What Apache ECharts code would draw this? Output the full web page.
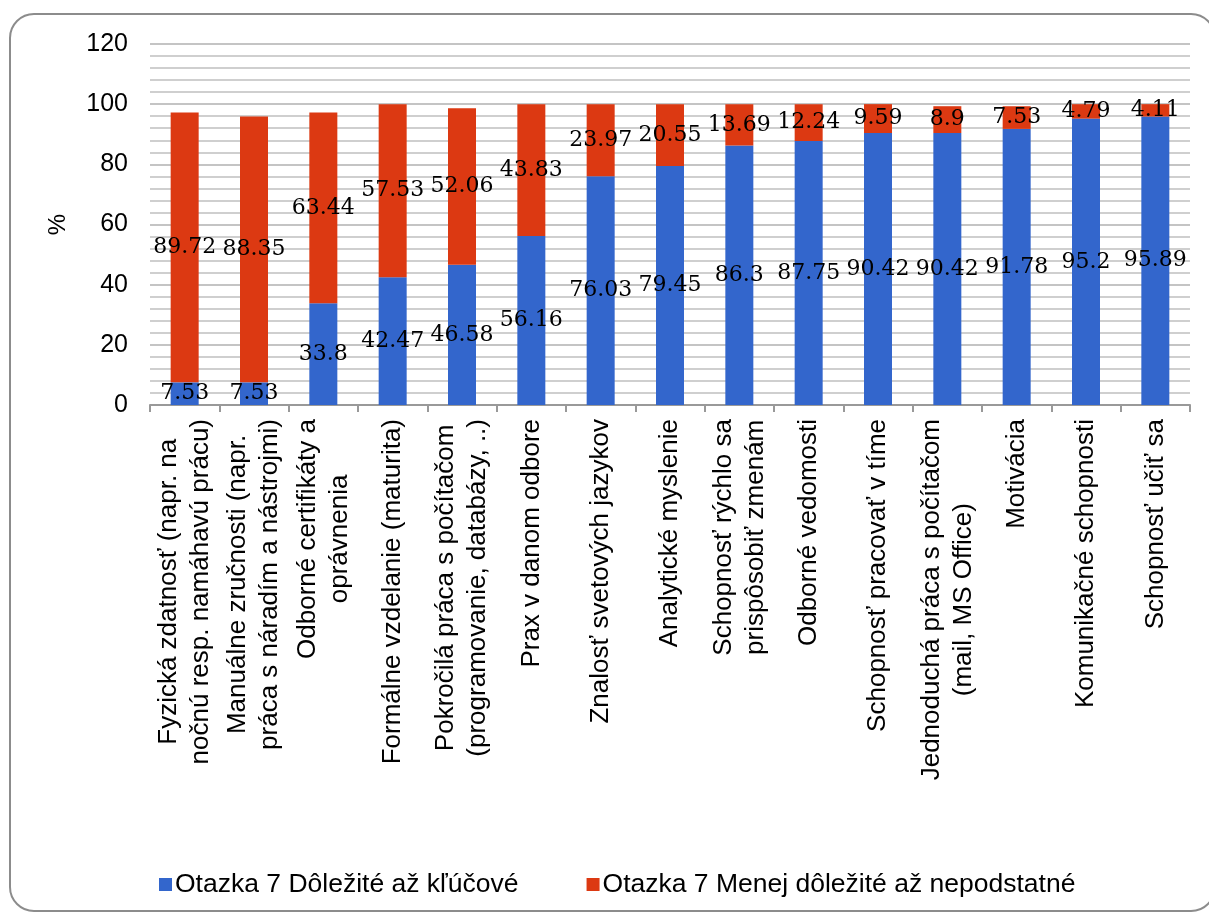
<!DOCTYPE html>
<html>
<head>
<meta charset="utf-8">
<script src="https://cdn.jsdelivr.net/npm/echarts@6/dist/echarts.min.js"></script>
<style>
html,body{margin:0;padding:0;background:#fff;}
#chart{width:1209px;height:917px;}
</style>
</head>
<body>
<div id="chart"></div>
<script>
const categories = [
  'Fyzická zdatnosť (napr. na\nnočnú resp. namáhavú prácu)',
  'Manuálne zručnosti (napr.\npráca s náradím a nástrojmi)',
  'Odborné certifikáty a\noprávnenia',
  'Formálne vzdelanie (maturita)',
  'Pokročilá práca s počítačom\n(programovanie, databázy, ..)',
  'Prax v danom odbore',
  'Znalosť svetových jazykov',
  'Analytické myslenie',
  'Schopnosť rýchlo sa\nprispôsobiť zmenám',
  'Odborné vedomosti',
  'Schopnosť pracovať v tíme',
  'Jednoduchá práca s počítačom\n(mail, MS Office)',
  'Motivácia',
  'Komunikačné schopnosti',
  'Schopnosť učiť sa'
];
const seriesNames = ['Otazka 7 Dôležité až kľúčové', 'Otazka 7 Menej dôležité až nepodstatné'];
const important = [7.53, 7.53, 33.8, 42.47, 46.58, 56.16, 76.03, 79.45, 86.3, 87.75, 90.42, 90.42, 91.78, 95.2, 95.89];
const lessImportant = [89.72, 88.35, 63.44, 57.53, 52.06, 43.83, 23.97, 20.55, 13.69, 12.24, 9.59, 8.9, 7.53, 4.79, 4.11];
const yTicks = [0, 20, 40, 60, 80, 100, 120];

const chart = echarts.init(document.getElementById('chart'));
const labelStyle = {
  show: true,
  position: 'inside',
  fontFamily: 'DejaVu Serif',
  fontSize: 22,
  color: '#000'
};
chart.setOption({
  animation: false,
  backgroundColor: '#fff',
  graphic: [{
    type: 'rect',
    shape: {x: 10, y: 14, width: 1205, height: 897, r: 24},
    style: {fill: 'none', stroke: '#8c8c8c', lineWidth: 2},
    silent: true,
    z: -10
  }],
  grid: {left: 150, right: 19, top: 44, bottom: 512},
  legend: {
    bottom: 14,
    left: 154,
    itemGap: 68,
    itemWidth: 13,
    itemHeight: 13,
    icon: 'rect',
    textStyle: {fontFamily: 'Liberation Sans', fontSize: 26.5, color: '#000', padding: [0, 0, 0, -2]},
    data: seriesNames
  },
  xAxis: {
    type: 'category',
    data: categories,
    axisLine: {lineStyle: {color: '#999', width: 2}},
    axisTick: {show: true, length: 7, lineStyle: {color: '#999', width: 2}},
    axisLabel: {
      interval: 0,
      rotate: 90,
      margin: 14,
      fontFamily: 'Liberation Sans',
      fontSize: 26,
      color: '#000',
      lineHeight: 32,
      formatter: function (v) {
        return v.split('\n').map(function (l) { return '{c|' + l + '}'; }).join('\n');
      },
      rich: {c: {align: 'center', fontFamily: 'Liberation Sans', fontSize: 26, lineHeight: 32, color: '#000'}}
    }
  },
  yAxis: {
    type: 'value',
    min: yTicks[0],
    max: yTicks[yTicks.length - 1],
    interval: 20,
    name: '%',
    nameLocation: 'middle',
    nameGap: 80,
    nameRotate: 90,
    nameTextStyle: {fontFamily: 'Liberation Sans', fontSize: 24, color: '#000'},
    axisLine: {show: false},
    axisTick: {show: false},
    axisLabel: {fontFamily: 'Liberation Sans', fontSize: 25, color: '#000', margin: 22},
    splitLine: {lineStyle: {color: '#c4c4c4', width: 2}},
    minorTick: {show: false, splitNumber: 5},
    minorSplitLine: {show: true, lineStyle: {color: '#cfcfcf', width: 2}}
  },
  series: [
    {
      name: seriesNames[0],
      type: 'bar',
      stack: 'total',
      barWidth: 28,
      data: important,
      itemStyle: {color: '#3366CC'},
      label: labelStyle
    },
    {
      name: seriesNames[1],
      type: 'bar',
      stack: 'total',
      barWidth: 28,
      data: lessImportant,
      itemStyle: {color: '#DC3912'},
      label: labelStyle
    }
  ]
});
</script>
</body>
</html>
